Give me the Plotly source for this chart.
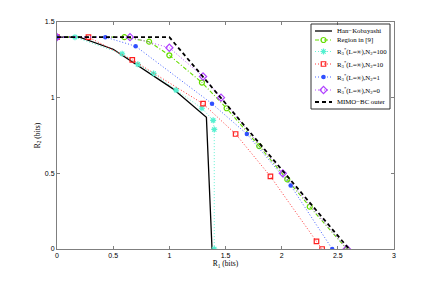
import plotly.graph_objects as go

hk_x = [0, 0.2, 0.5, 0.74, 1.03, 1.33, 1.38]
hk_y = [1.4, 1.4, 1.32, 1.20, 1.06, 0.87, 0]

r9_x = [0, 0.6, 0.82, 1.0, 1.29, 1.51, 1.80, 2.05, 2.25, 2.58]
r9_y = [1.4, 1.4, 1.37, 1.28, 1.10, 0.93, 0.68, 0.46, 0.28, 0]

n100_x = [0, 0.16, 0.58, 0.72, 0.86, 1.06, 1.29, 1.39, 1.40, 1.40]
n100_y = [1.4, 1.4, 1.29, 1.22, 1.16, 1.05, 0.93, 0.85, 0.79, 0]

n10_x = [0, 0.28, 0.67, 1.30, 1.59, 1.90, 2.31, 2.36]
n10_y = [1.4, 1.4, 1.25, 0.96, 0.76, 0.48, 0.05, 0]

n1_x = [0, 0.43, 0.70, 1.38, 1.69, 2.08, 2.45]
n1_y = [1.4, 1.4, 1.34, 0.96, 0.76, 0.42, 0]

n0_x = [0, 0.65, 1.0, 1.30, 1.46, 2.01, 2.58]
n0_y = [1.4, 1.4, 1.33, 1.14, 1.00, 0.50, 0]

bc_x = [0, 1.0, 2.6]
bc_y = [1.4, 1.4, 0]

x_ticks = [0, 0.5, 1, 1.5, 2, 2.5, 3]
y_ticks = [0, 0.5, 1, 1.5]

names = [
    "Han−Kobayashi",
    "Region in [9]",
    "R<sub>3</sub><sup>*</sup>(L=∞),N<sub>2</sub>=100",
    "R<sub>3</sub><sup>*</sup>(L=∞),N<sub>2</sub>=10",
    "R<sub>3</sub><sup>*</sup>(L=∞),N<sub>2</sub>=1",
    "R<sub>3</sub><sup>*</sup>(L=∞),N<sub>2</sub>=0",
    "MIMO−BC outer",
]

styles = [
    dict(line=dict(color="black", width=1.3), marker=None),
    dict(line=dict(color="#66dd00", width=1.1, dash="4px,2px,1px,2px"),
         marker=dict(symbol="circle-open", size=5, color="#66dd00", line=dict(width=1.2))),
    dict(line=dict(color="#55f0d0", width=0.9, dash="1px,2px"),
         marker=dict(symbol="asterisk-open", size=5, color="#55f0d0", line=dict(width=1.2, color="#55f0d0"))),
    dict(line=dict(color="#ff2020", width=0.9, dash="1px,2px"),
         marker=dict(symbol="square-open", size=4.5, color="#ff2020", line=dict(width=1.2))),
    dict(line=dict(color="#3050ff", width=0.9, dash="1px,2px"),
         marker=dict(symbol="circle", size=4.5, color="#3050ff")),
    dict(line=dict(color="#b040ff", width=0.9, dash="1px,2px"),
         marker=dict(symbol="diamond-open", size=5.5, color="#b040ff", line=dict(width=1.2))),
    dict(line=dict(color="black", width=1.8, dash="4px,3px"), marker=None),
]

series = [(hk_x, hk_y), (r9_x, r9_y), (n100_x, n100_y), (n10_x, n10_y),
          (n1_x, n1_y), (n0_x, n0_y), (bc_x, bc_y)]

fig = go.Figure()
for (sx, sy), st, nm in zip(series, styles, names):
    kw = dict(line=st["line"])
    if st["marker"] is not None:
        kw["marker"] = st["marker"]
        mode = "lines+markers"
    else:
        mode = "lines"
    fig.add_trace(go.Scatter(x=sx, y=sy, mode=mode, name=nm, showlegend=False, **kw))

# Custom compact legend (overlay axes, 0..1 = plot area)
plot_l, plot_t, plot_w, plot_h = 57, 22, 337, 227
def px2x(p):
    return (p - plot_l) / plot_w
def py2y(p):
    return (plot_t + plot_h - p) / plot_h

leg_rows_px = [31, 40, 51.5, 64, 77, 90, 102]
samp_x0, samp_x1, text_x = px2x(315), px2x(332), px2x(335)
for ypx, st, nm in zip(leg_rows_px, styles, names):
    yy = py2y(ypx)
    fig.add_trace(go.Scatter(x=[samp_x0, samp_x1], y=[yy, yy], mode="lines",
                             line=st["line"], xaxis="x2", yaxis="y2",
                             showlegend=False, hoverinfo="skip"))
    if st["marker"] is not None:
        fig.add_trace(go.Scatter(x=[(samp_x0 + samp_x1) / 2], y=[yy], mode="markers",
                                 marker=st["marker"], xaxis="x2", yaxis="y2",
                                 showlegend=False, hoverinfo="skip"))
    fig.add_annotation(x=text_x, y=yy, xref="paper", yref="paper", text=nm,
                       showarrow=False, xanchor="left", yanchor="middle",
                       font=dict(family="Liberation Serif, Times New Roman", size=6.8, color="black"))

fig.add_shape(type="rect", xref="paper", yref="paper",
              x0=px2x(311), x1=px2x(390), y0=py2y(109), y1=py2y(24),
              line=dict(color="#303030", width=1), layer="above")

axis_common = dict(showline=True, linecolor="#7f7f7f", linewidth=1, mirror="ticks",
                   ticks="inside", ticklen=3, tickcolor="#7f7f7f", showgrid=False,
                   zeroline=False, tickfont=dict(family="Liberation Sans, Arial", size=7, color="black"))

fig.update_layout(
    width=436, height=295,
    margin=dict(l=57, r=42, t=22, b=46),
    paper_bgcolor="white", plot_bgcolor="white",
    font=dict(family="Liberation Serif, Times New Roman", size=7, color="black"),
    xaxis=dict(range=[0, 3], tickvals=x_ticks, ticktext=[f"{v:g}" for v in x_ticks],
               title=dict(text="R<sub>1</sub> (bits)", font=dict(size=7.5), standoff=2), **axis_common),
    yaxis=dict(range=[0, 1.5], tickvals=y_ticks, ticktext=[f"{v:g}" for v in y_ticks],
               title=dict(text="R<sub>2</sub> (bits)", font=dict(size=7.5), standoff=3), **axis_common),
    xaxis2=dict(range=[0, 1], domain=[0, 1], overlaying="x", visible=False, fixedrange=True),
    yaxis2=dict(range=[0, 1], domain=[0, 1], overlaying="y", visible=False, fixedrange=True),
    showlegend=False,
)

fig.write_html("out.html", post_script="document.body.style.margin='0';",
               config={"displayModeBar": False})
